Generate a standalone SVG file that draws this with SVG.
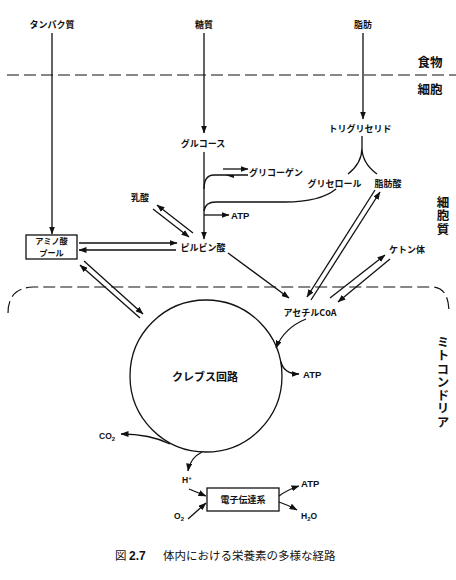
<svg xmlns="http://www.w3.org/2000/svg" width="456" height="580" viewBox="0 0 456 580">
<style>
.j{font-family:"Noto Sans CJK JP","Noto Sans",sans-serif;font-size:9px;font-weight:700;fill:#111}
.big{font-family:"Noto Sans CJK JP","Noto Sans",sans-serif;font-size:12.5px;font-weight:700;fill:#111}
.v{writing-mode:vertical-rl;letter-spacing:0.8px}
.l{font-family:"Liberation Sans",Arial,sans-serif;font-size:9.5px;font-weight:700;fill:#111}
.c{text-anchor:middle}
.ln{fill:none;stroke:#111;stroke-width:1.3}
.ar{marker-end:url(#a)}
.dash{fill:none;stroke:#111;stroke-width:1.2;stroke-dasharray:12 5}
.cap{font-family:"Noto Sans CJK JP","Noto Sans",sans-serif;font-size:11.5px;fill:#111}
</style>
<defs>
<marker id="a" markerWidth="8" markerHeight="6" refX="7.5" refY="3" orient="auto" markerUnits="userSpaceOnUse">
<path d="M0,0 L8,3 L0,6 z" fill="#111"/>
</marker>
</defs>
<rect width="456" height="580" fill="#fff"/>
<g id="connectors">
<path class="dash" d="M7,75 L456,75"/>
<path class="dash" d="M8,313 Q8,288 33,287 L433,287 Q449,288 449,313"/>
<path class="ln ar" d="M52,33 L52,234"/>
<path class="ln ar" d="M204,33 L204,133"/>
<path class="ln ar" d="M363,33 L363,119"/>
<path class="ln ar" d="M204,152 L204,239"/>
<path class="ln ar" d="M223,169 L248,169"/>
<path class="ln" d="M248,175 L214,175 Q204,175 204,189"/>
<path d="M225,175 L234,175 L234,178 z" fill="#111"/>
<path class="ln" d="M336,189 Q320,202 285,202 L216,202 Q205,202 204,211"/>
<path class="ln ar" d="M204,215 L229,215"/>
<path class="ln ar" d="M193,233 L157,205"/>
<path class="ln ar" d="M153,209 L189,237"/>
<path class="ln ar" d="M79,243 L177,243"/>
<path class="ln ar" d="M176,250 L79,250"/>
<path class="ln ar" d="M84,261 L143,314"/>
<path class="ln ar" d="M140,318 L80,265"/>
<path class="ln ar" d="M228,253 L289,298"/>
<path class="ln ar" d="M375,190 L307,297"/>
<path class="ln ar" d="M311,300 L380,192"/>
<path class="ln ar" d="M330,298 L385,255"/>
<path class="ln ar" d="M390,259 L338,302"/>
<path class="ln" d="M362,136 L362,148 Q362,163 348,174 M362,148 Q362,163 377,174"/>
<path class="ln ar" d="M306,319 Q284,328 276,348"/>
<path class="ln ar" d="M281,362 Q284,374 299,374"/>
<path class="ln ar" d="M170,444 Q150,434 121,434"/>
<path class="ln ar" d="M202,452 Q190,458 188,471"/>
<path class="ln ar" d="M189,489 L206,496"/>
<path class="ln ar" d="M188,519 L206,503"/>
<path class="ln ar" d="M279,496 Q287,490 299,486"/>
<path class="ln ar" d="M279,502 Q288,505 297,510"/>
</g>
<g id="protein"><text class="j c" x="52" y="27.5">タンパク質</text></g>
<g id="sugar"><text class="j c" x="204" y="27.5">糖質</text></g>
<g id="fat"><text class="j c" x="363" y="27.5">脂肪</text></g>
<g id="food"><text class="big c" x="430" y="66.5">食物</text></g>
<g id="cell"><text class="big c" x="430" y="93.5">細胞</text></g>
<g id="glucose"><text class="j c" x="203" y="147">グルコース</text></g>
<g id="glycogen"><text class="j" x="249" y="175.5">グリコーゲン</text></g>
<g id="atp1"><text class="l" x="231" y="218.5">ATP</text></g>
<g id="lactate"><text class="j c" x="140" y="200.5">乳酸</text></g>
<g id="pyruvate"><text class="j c" x="203" y="250.5">ピルビン酸</text></g>
<g id="aminopool">
<rect x="26" y="235" width="51" height="24" fill="none" stroke="#111" stroke-width="1.3"/>
<text class="j c" style="font-size:8.2px"><tspan x="51.5" y="244">アミノ酸</tspan><tspan x="51.5" y="256">プール</tspan></text>
</g>
<g id="triglyceride"><text class="j c" x="360" y="131.5">トリグリセリド</text></g>
<g id="glycerol"><text class="j c" x="334.5" y="186.5">グリセロール</text></g>
<g id="fattyacid"><text class="j c" x="388" y="186.5">脂肪酸</text></g>
<g id="cytoplasm"><text class="big v" x="443" y="196">細胞質</text></g>
<g id="ketone"><text class="j c" x="407" y="252.5">ケトン体</text></g>
<g id="acetylcoa"><text class="j c" x="310" y="315.5">アセチルCoA</text></g>
<g id="krebs">
<circle cx="206" cy="376" r="76" fill="none" stroke="#111" stroke-width="1.3"/>
<text class="j c" x="205" y="381" style="font-size:11px">クレブス回路</text>
</g>
<g id="atp2"><text class="l" x="303" y="377.5">ATP</text></g>
<g id="mitochondria"><text class="big v" x="443" y="336">ミトコンドリア</text></g>
<g id="co2"><text class="l" x="99" y="438.5" style="font-size:8.5px">CO<tspan style="font-size:6px" dy="2">2</tspan></text></g>
<g id="hplus"><text class="l" x="182" y="483" style="font-size:8.5px">H<tspan style="font-size:6px" dy="-3">+</tspan></text></g>
<g id="etc">
<rect x="207" y="488" width="72" height="23" fill="none" stroke="#111" stroke-width="1.3"/>
<text class="j c" x="243" y="502.5">電子伝達系</text>
</g>
<g id="o2"><text class="l" x="174" y="519" style="font-size:8.5px">O<tspan style="font-size:6px" dy="2">2</tspan></text></g>
<g id="atp3"><text class="l" x="301" y="486.5">ATP</text></g>
<g id="h2o"><text class="l" x="301" y="518.5" style="font-size:8.5px">H<tspan style="font-size:6px" dy="2">2</tspan><tspan dy="-2">O</tspan></text></g>
<g id="caption"><text class="cap" x="115" y="560">図 <tspan style="font-family:'Liberation Sans',Arial,sans-serif;font-weight:700;font-size:12px">2.7</tspan><tspan x="163">体内における栄養素の多様な経路</tspan></text></g>
</svg>
